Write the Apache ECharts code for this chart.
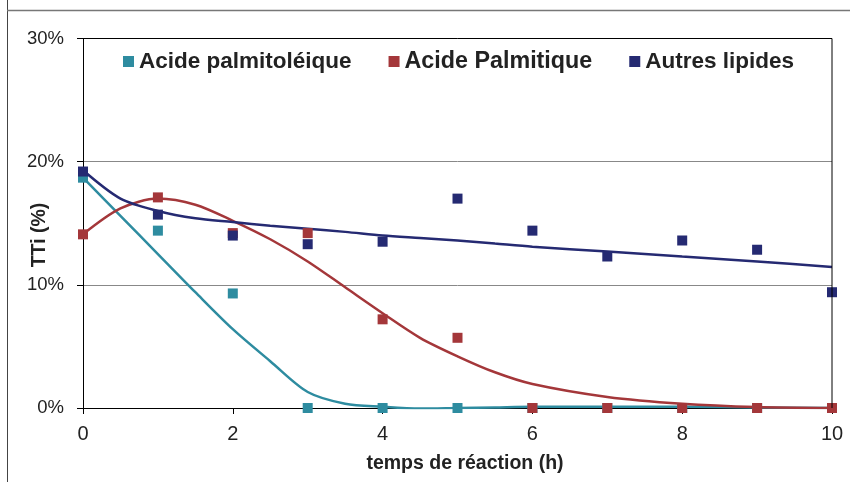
<!DOCTYPE html>
<html><head><meta charset="utf-8">
<script src="https://cdn.jsdelivr.net/npm/echarts@6/dist/echarts.min.js"></script>
<style>html,body{margin:0;padding:0;background:#fff}#c{width:850px;height:482px}</style>
</head><body><div id="c"></div>
<script>
// Measured points (x = hours, y = %)
const hours = [0,1,2,3,4,5,6,7,8,9,10];
const palmitoleique = [18.7,14.4,9.3,0,0,0,0,0,0,0,0];
const palmitique = [14.1,17.1,14.2,14.2,7.2,5.7,0,0,0,0,0];
const autres = [19.2,15.7,14.0,13.3,13.5,17.0,14.4,12.3,13.6,12.85,9.4];
// Trend curves
const curveX = [0,0.5,1,1.5,2,2.5,3,3.5,4,4.5,5,5.5,6,7,8,9,10];
const curvePalmitoleique = [18.7,15.6,12.5,9.4,6.4,3.8,1.3,0.35,0.1,-0.05,0,0.05,0.1,0.1,0.1,0.05,0];
const curvePalmitique = [14.1,16.2,17.0,16.5,15.2,13.7,11.9,9.8,7.7,5.7,4.2,2.9,1.95,0.9,0.35,0.08,0];
const curveAutres = [19.3,17.0,16.0,15.4,15.1,14.8,14.55,14.3,14.0,13.8,13.6,13.35,13.1,12.7,12.3,11.9,11.45];
const names = ['Acide palmitoléique','Acide Palmitique','Autres lipides'];
const colors = ['#2E8CA0','#A4373A','#252A72'];

const pts = (xs, ys) => xs.map((x,i)=>[x, ys[i]]);
const chart = echarts.init(document.getElementById('c'), null, {renderer:'canvas'});
const F = '"Liberation Sans", Arial, sans-serif';
const scatterData = [palmitoleique, palmitique, autres];
const curveData = [curvePalmitoleique, curvePalmitique, curveAutres];
const series = [];
for (let i=0;i<3;i++){
  series.push({type:'line', name:names[i]+' tendance', data:pts(curveX, curveData[i]), smooth:0.3,
    showSymbol:false, lineStyle:{color:colors[i], width:2.5}, z:2, silent:true});
}
for (let i=0;i<3;i++){
  series.push({type:'scatter', name:names[i], data:pts(hours, scatterData[i]), symbol:'rect', symbolSize:10,
    itemStyle:{color:colors[i], opacity:1}, z:3+i});
}
chart.setOption({
  animation:false,
  backgroundColor:'#fff',
  grid:{left:83, right:18, top:38.5, bottom:74},
  legend:{data:[{name:names[0]},{name:names[1], textStyle:{fontSize:23.3}},{name:names[2]}],
    left:118, top:45, itemWidth:11, itemHeight:11, itemGap:37, icon:'rect',
    itemStyle:{opacity:1},
    textStyle:{fontFamily:F, fontWeight:'bold', fontSize:22.5, color:'#222'}},
  xAxis:{type:'value', min:0, max:10, interval:2,
    axisLine:{lineStyle:{color:'#000', width:1}}, axisTick:{show:true, length:6, lineStyle:{color:'#000'}},
    axisLabel:{fontFamily:F, fontSize:20, color:'#222', margin:16},
    splitLine:{show:false}},
  yAxis:{type:'value', min:0, max:30, interval:10,
    axisLine:{show:true, lineStyle:{color:'#000', width:1}}, axisTick:{show:true, length:6, lineStyle:{color:'#000'}},
    axisLabel:{fontFamily:F, fontSize:18.5, color:'#222', margin:19, formatter:v=>v+'%'},
    splitLine:{show:true, lineStyle:{color:'#888', width:1}}},
  graphic:[
    {type:'line', shape:{x1:7.5,y1:-5,x2:7.5,y2:500}, style:{stroke:'#444', lineWidth:1}},
    {type:'line', shape:{x1:7,y1:10.5,x2:860,y2:10.5}, style:{stroke:'#777', lineWidth:1.5}},
    {type:'line', shape:{x1:83,y1:38.5,x2:832,y2:38.5}, style:{stroke:'#000', lineWidth:1}, z:10},
    {type:'line', shape:{x1:832,y1:38.5,x2:832,y2:408}, style:{stroke:'#000', lineWidth:1}, z:10},
    {type:'text', x:465, y:464, style:{text:'temps de réaction (h)', font:'bold 19.5px '+F, fill:'#222', textAlign:'center', textVerticalAlign:'middle'}},
    {type:'text', x:40, y:235, rotation:Math.PI/2, style:{text:'TTi (%)', font:'bold 19.5px '+F, fill:'#222', textAlign:'center', textVerticalAlign:'middle'}}
  ],
  series:series
});
</script></body></html>
